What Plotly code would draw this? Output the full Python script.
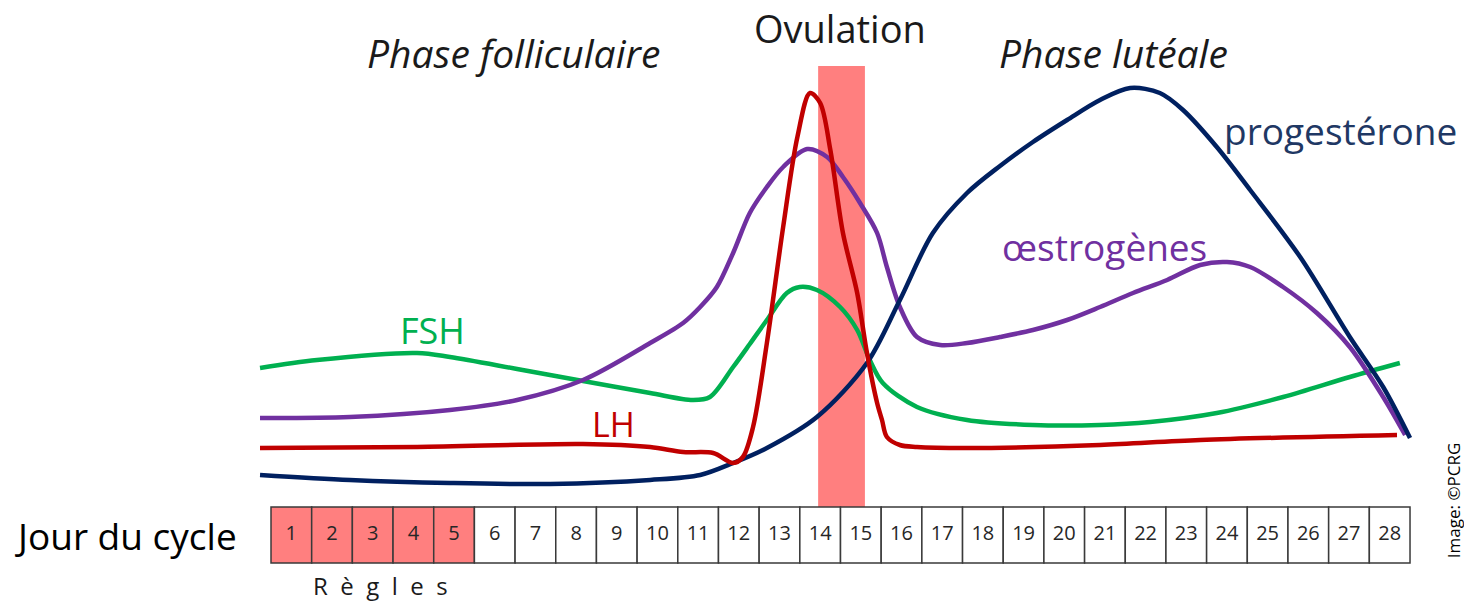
import plotly.graph_objects as go

# ---- Data (x in cycle days, y in arbitrary hormone level units) ----
days = list(range(1, 29))
regles_days = [1, 2, 3, 4, 5]
ovulation_band = [13.95, 15.10]

prog_x = [0.23, 2.44, 4.90, 7.36, 9.82, 11.05, 11.86, 12.69, 13.92, 15.15, 15.96, 16.77, 17.61,
          18.42, 19.23, 20.07, 20.88, 21.62, 22.35, 22.92, 23.75, 24.57, 25.80, 27.02, 27.84, 28.50]
prog_y = [6.25, 5.0, 4.25, 4.0, 5.0, 6.25, 9.25, 13.0, 20.75, 34.25, 50.0, 66.75, 76.75,
          83.5, 89.5, 95.0, 100.0, 103.0, 101.75, 97.5, 88.25, 77.5, 60.75, 40.75, 28.25, 15.5]

oest_x = [0.23, 2.44, 4.90, 6.55, 8.17, 9.82, 10.63, 11.05, 11.46, 11.86, 12.27, 12.69, 13.09,
          13.68, 14.17, 14.56, 14.98, 15.40, 15.64, 15.96, 16.38, 16.95, 17.61, 18.42, 19.23,
          20.07, 20.88, 21.69, 22.53, 23.34, 24.00, 24.57, 25.38, 26.21, 27.02, 27.84, 28.38]
oest_y = [20.5, 20.75, 22.5, 25.0, 30.0, 39.25, 44.25, 48.25, 53.25, 61.75, 71.75, 78.25, 83.25,
          87.75, 85.75, 80.75, 74.25, 66.75, 58.25, 48.25, 40.75, 38.75, 39.25, 40.75, 42.5,
          45.0, 48.25, 51.75, 55.0, 58.75, 59.5, 58.25, 53.25, 46.75, 38.25, 25.75, 16.25]

fsh_x = [0.23, 1.63, 4.09, 4.90, 6.55, 8.17, 9.82, 10.87, 11.29, 11.86, 12.27, 12.69, 13.18,
         13.50, 13.92, 14.49, 14.91, 15.22, 15.54, 16.38, 17.61, 19.23, 20.88, 22.11, 23.75,
         25.38, 27.02, 28.25]
fsh_y = [33.0, 35.0, 36.75, 35.75, 32.75, 29.75, 26.75, 25.0, 25.75, 33.25, 39.0, 45.0, 51.75,
         53.25, 52.5, 48.25, 42.5, 35.0, 29.25, 23.25, 20.0, 18.75, 18.75, 19.5, 21.75,
         25.75, 30.75, 34.25]

lh_x = [0.23, 4.09, 8.17, 9.82, 10.63, 11.37, 11.86, 12.10, 12.35, 12.69, 13.09, 13.44, 13.75,
        14.00, 14.25, 14.56, 14.91, 15.15, 15.40, 15.52, 15.64, 15.96, 16.38, 17.61, 20.88,
        23.34, 28.18]
lh_y = [13.0, 13.25, 14.0, 13.25, 12.0, 11.75, 9.25, 10.75, 18.25, 39.25, 68.25, 90.75, 101.75,
        99.25, 87.5, 66.75, 51.75, 36.75, 24.25, 20.0, 15.75, 13.75, 13.25, 13.0, 13.75,
        15.0, 16.25]

# ---- Styles ----
FONT = "Open Sans"
NAVY = "#002060"
PURPLE = "#7030A0"
GREEN = "#00B050"
RED = "#C00000"
SALMON = "#FF7F7F"

CELL_TOP = -1.75
CELL_BOT = -15.75
BAND_TOP = 108.5

fig = go.Figure()

for xs, ys, col in [(fsh_x, fsh_y, GREEN), (oest_x, oest_y, PURPLE),
                    (prog_x, prog_y, NAVY), (lh_x, lh_y, RED)]:
    fig.add_trace(go.Scatter(x=xs, y=ys, mode="lines",
                             line=dict(color=col, width=4.5, shape="spline", smoothing=0.9),
                             hoverinfo="skip", showlegend=False))

# day numbers
fig.add_trace(go.Scatter(x=days, y=[(CELL_TOP + CELL_BOT) / 2] * len(days), mode="text",
                         text=[str(d) for d in days],
                         textfont=dict(family=FONT, size=20, color="#262626"),
                         hoverinfo="skip", showlegend=False))

shapes = []
# ovulation band
shapes.append(dict(type="rect", xref="x", yref="y", x0=ovulation_band[0], x1=ovulation_band[1],
                   y0=CELL_TOP, y1=BAND_TOP, fillcolor=SALMON, line=dict(width=0), layer="below"))
# day cells
for d in days:
    shapes.append(dict(type="rect", xref="x", yref="y", x0=d - 0.5, x1=d + 0.5,
                       y0=CELL_BOT, y1=CELL_TOP,
                       fillcolor=SALMON if d in regles_days else "white",
                       line=dict(color="#3a3a3a", width=1.5), layer="below"))

NB = "\u00a0"
regles_text = (NB + " ").join(list("Règles"))

annotations = [
    dict(x=6.47, y=112, text="<i>Phase folliculaire</i>", font=dict(size=39, color="#1a1a1a")),
    dict(x=14.49, y=118, text="Ovulation", font=dict(size=38, color="#1a1a1a")),
    dict(x=21.2, y=112, text="<i>Phase lutéale</i>", font=dict(size=39, color="#1a1a1a")),
    dict(x=23.88, y=92.5, text="progestérone", xanchor="left", font=dict(size=37, color="#1F3864")),
    dict(x=18.42, y=63.5, text="œstrogènes", xanchor="left", font=dict(size=37, color=PURPLE)),
    dict(x=4.46, y=42.5, text="FSH", font=dict(size=36, color=GREEN)),
    dict(x=8.91, y=19.0, text="LH", font=dict(size=34, color=RED)),
    dict(x=-3.06, y=-8.75, text="Jour du cycle", font=dict(size=37, color="#000000")),
    dict(x=3.2, y=-21.25, text=regles_text, font=dict(size=24, color="#1a1a1a")),
    dict(x=29.56, y=0, text="Image: ©PCRG", textangle=-90, font=dict(size=17, color="#000000")),
]
for a in annotations:
    a.update(xref="x", yref="y", showarrow=False)
    a.setdefault("xanchor", "center")
    a["yanchor"] = "middle"
    a["font"]["family"] = FONT

fig.update_layout(
    width=1464, height=603, autosize=False,
    margin=dict(l=0, r=0, t=0, b=0),
    paper_bgcolor="white", plot_bgcolor="white",
    xaxis=dict(range=[-6.162, 29.827], visible=False, fixedrange=True),
    yaxis=dict(range=[-25.75, 125], visible=False, fixedrange=True),
    shapes=shapes, annotations=annotations, showlegend=False,
)

fig.write_html("out.html", config={"displayModeBar": False},
               post_script="document.body.style.margin='0';document.body.style.overflow='hidden';")
